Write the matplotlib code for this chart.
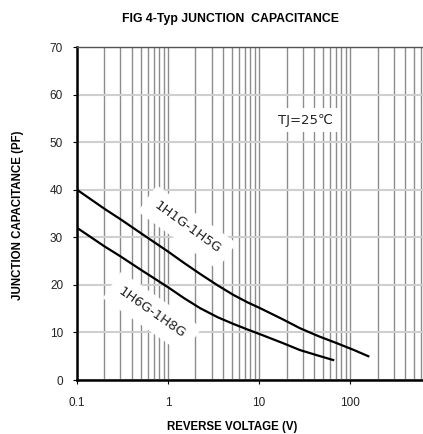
import numpy as np
import matplotlib.pyplot as plt
from matplotlib.ticker import LogLocator, NullFormatter

# curve values
v_1h1g = [0.1, 0.2, 0.3, 0.5, 1, 1.5, 2.25, 3.5, 5.2, 7.5, 10, 18, 28, 45, 70, 110, 158]
c_1h1g = [40, 36, 33.8, 30.9, 27, 24.6, 22.3, 19.9, 17.9, 16.3, 15.2, 12.8, 10.9, 9.2, 7.8, 6.3, 5.0]
v_1h6g = [0.1, 0.2, 0.3, 0.5, 1, 1.5, 2.25, 3.5, 5.2, 7.5, 10, 18, 28, 45, 65]
c_1h6g = [32, 28.1, 26, 23.2, 19.5, 17.2, 15.1, 13.2, 11.8, 10.6, 9.7, 7.8, 6.3, 5.1, 4.2]

xticks = [0.1, 1, 10, 100]
xticklabels = ['0.1', '1', '10', '100']
yticks = [0, 10, 20, 30, 40, 50, 60, 70]

plt.rcParams['font.family'] = ['Liberation Sans', 'DejaVu Sans']

fig = plt.figure(figsize=(4.23, 4.34), dpi=100)
ax = fig.add_axes([0.182, 0.1244, 0.818, 0.7673])

ax.set_xscale('log')
ax.set_xlim(0.1, 630)
ax.set_ylim(0, 70)

# grid
ax.xaxis.set_minor_locator(LogLocator(base=10, subs=np.arange(2, 10)))
ax.xaxis.set_minor_formatter(NullFormatter())
ax.grid(True, which='major', axis='x', color='#8c8c8c', lw=1.0)
ax.grid(True, which='minor', axis='x', color='#8c8c8c', lw=1.0)
ax.grid(True, which='major', axis='y', color='#cfcfcf', lw=1.5)
ax.set_axisbelow(True)

ax.plot(v_1h1g, c_1h1g, color='black', lw=1.6, zorder=3)
ax.plot(v_1h6g, c_1h6g, color='black', lw=1.6, zorder=3)

ax.set_xticks(xticks)
ax.set_xticklabels(xticklabels)
ax.set_yticks(yticks)
ax.tick_params(axis='both', which='major', labelsize=8.5, length=3,
               color='black', labelcolor='#222222')
ax.tick_params(axis='x', which='major', pad=9)
ax.tick_params(axis='y', which='major', pad=7)
ax.tick_params(axis='x', which='minor', length=0)

ax.spines['right'].set_visible(False)
ax.spines['top'].set_color('#555555')
ax.spines['top'].set_linewidth(1.0)
ax.spines['left'].set_linewidth(1.8)
ax.spines['bottom'].set_linewidth(1.8)

box = dict(facecolor='white', edgecolor='none', pad=7)
ax.text(1.62, 32.1, '1H1G-1H5G', rotation=-36, ha='center', va='center',
        fontsize=9.5, family='DejaVu Sans', color='#222222', bbox=box, zorder=2)
ax.text(0.67, 14.1, '1H6G-1H8G', rotation=-35, ha='center', va='center',
        fontsize=9.5, family='DejaVu Sans', color='#222222', bbox=box, zorder=2)
ax.text(32, 54.6, 'TJ=25℃', ha='center', va='center', fontsize=9.5,
        family='DejaVu Sans', color='#222222',
        bbox=dict(facecolor='white', edgecolor='none', pad=4), zorder=2)

fig.text(0.546, 0.957, 'FIG 4-Typ JUNCTION  CAPACITANCE', ha='center',
         va='center', fontsize=8.8, fontweight='bold')
fig.text(0.548, 0.017, 'REVERSE VOLTAGE (V)', ha='center', va='center',
         fontsize=8.3, fontweight='bold')
fig.text(0.043, 0.505, 'JUNCTION CAPACITANCE (PF)', ha='center',
         va='center', rotation=90, fontsize=8.3, fontweight='bold')

fig.savefig('out.png', dpi=100)
